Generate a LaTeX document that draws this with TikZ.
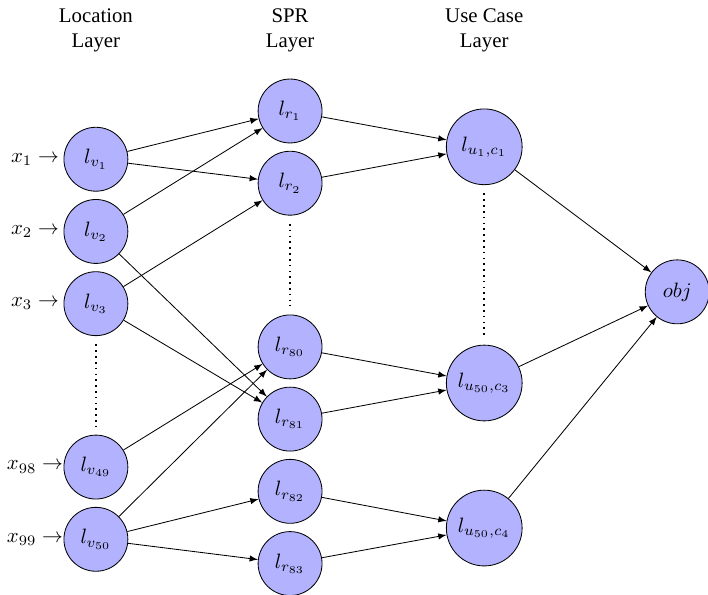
\documentclass[tikz,border=0pt]{standalone}
\usepackage[no-math]{fontspec}
\setmainfont{Liberation Serif}
\usetikzlibrary{positioning}

\begin{document}
\begin{tikzpicture}[
  node distance=1.22cm,
  neuron/.style={circle, draw, fill=blue!30, minimum size=1.08cm, inner sep=1pt},
  usecase/.style={neuron, minimum size=1.28cm},
  head/.style={align=center},
  arrow/.style={-latex},
  gap/.style={dotted, thick, shorten <=4pt, shorten >=4pt}
]
\useasboundingbox (0,0) rectangle (11.96,-10.05);

\node[head] (hv) at (1.62,-0.51) {Location\\Layer};
\node[head] (hr) at (4.90,-0.51) {SPR\\Layer};
\node[head] (hu) at (8.18,-0.51) {Use Case\\Layer};

\node[neuron] (v1) at (1.62,-2.69) {$l_{v_1}$};
\node[neuron] (v2) [below of=v1] {$l_{v_2}$};
\node[neuron] (v3) [below of=v2] {$l_{v_3}$};
\node[neuron] (v49) at (1.62,-7.89) {$l_{v_{49}}$};
\node[neuron] (v50) [below of=v49] {$l_{v_{50}}$};

\node (x1) [left of=v1, node distance=1.03cm] {$x_1 \rightarrow$};
\node (x2) [left of=v2, node distance=1.03cm] {$x_2 \rightarrow$};
\node (x3) [left of=v3, node distance=1.03cm] {$x_3 \rightarrow$};
\node (x98) [left of=v49, node distance=1.03cm] {$x_{98} \rightarrow$};
\node (x99) [left of=v50, node distance=1.03cm] {$x_{99} \rightarrow$};

\node[neuron] (r1) at (4.90,-1.875) {$l_{r_1}$};
\node[neuron] (r2) [below of=r1] {$l_{r_2}$};
\node[neuron] (r80) at (4.90,-5.86) {$l_{r_{80}}$};
\node[neuron] (r81) [below of=r80] {$l_{r_{81}}$};
\node[neuron] (r82) [below of=r81] {$l_{r_{82}}$};
\node[neuron] (r83) [below of=r82] {$l_{r_{83}}$};

\node[usecase] (u1) at (8.18,-2.48) {$l_{u_1,c_1}$};
\node[usecase] (u3) at (8.18,-6.47) {$l_{u_{50},c_3}$};
\node[usecase] (u4) at (8.18,-8.92) {$l_{u_{50},c_4}$};

\node[neuron] (obj) at (11.44,-4.93) {$obj$};

\draw[gap] (v3) -- (v49);
\draw[gap] (r2) -- (r80);
\draw[gap] (u1) -- (u3);

\draw[arrow] (v1) -- (r1);
\draw[arrow] (v1) -- (r2);
\draw[arrow] (v2) -- (r1);
\draw[arrow] (v2) -- (r81);
\draw[arrow] (v3) -- (r2);
\draw[arrow] (v3) -- (r81);
\draw[arrow] (v49) -- (r80);
\draw[arrow] (v50) -- (r80);
\draw[arrow] (v50) -- (r82);
\draw[arrow] (v50) -- (r83);

\draw[arrow] (r1) -- (u1);
\draw[arrow] (r2) -- (u1);
\draw[arrow] (r80) -- (u3);
\draw[arrow] (r81) -- (u3);
\draw[arrow] (r82) -- (u4);
\draw[arrow] (r83) -- (u4);

\draw[arrow] (u1) -- (obj);
\draw[arrow] (u3) -- (obj);
\draw[arrow] (u4) -- (obj);
\end{tikzpicture}
\end{document}
